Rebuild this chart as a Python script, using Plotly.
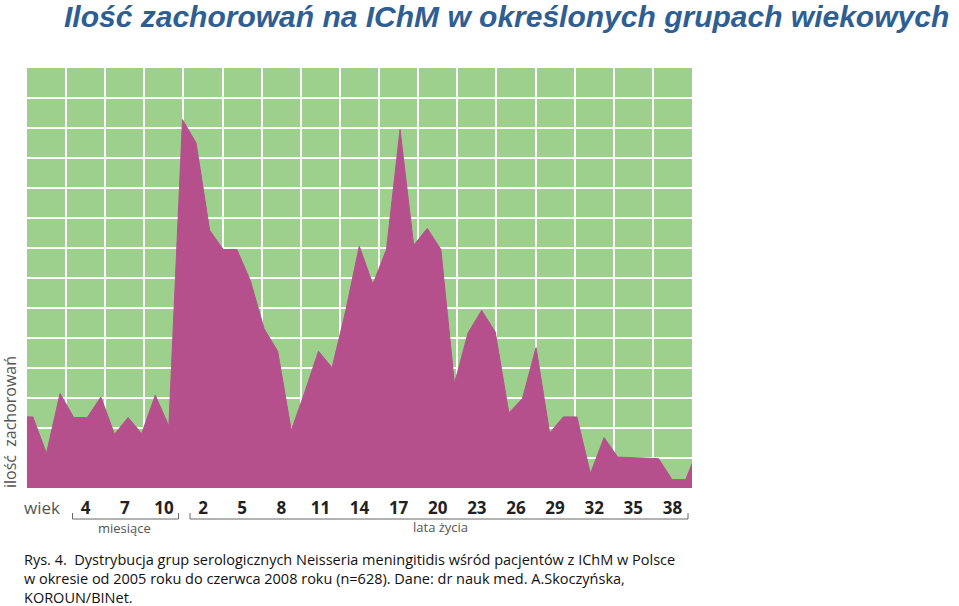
import numpy as np
import plotly.graph_objects as go

# case counts per age point (grid rows as units),
# first and last values sit just outside the visible range
values = [2.37, 2.37, 1.15, 3.15, 2.35, 2.35, 3.03, 1.79, 2.35, 1.81, 3.09, 2.06,
          12.28, 11.5, 8.59, 7.95, 7.95, 6.9, 5.31, 4.56, 1.92, 3.2,
          4.56, 4.01, 5.9, 8.06, 6.79, 7.95, 11.95, 8.09, 8.65, 7.95,
          3.48, 5.17, 5.92, 5.2, 2.5, 2.98, 4.68, 1.83, 2.37, 2.37,
          0.48, 1.68, 1.03, 1.01, 1.0, 0.98, 0.28, 0.28, 1.4]
age_labels = ['4', '7', '10', '2', '5', '8', '11', '14', '17', '20', '23',
              '26', '29', '32', '35', '38']

GREEN = '#9dcf8d'
MAGENTA = '#b5508d'
BLUE = '#2f5f92'

n_cells = 17
cell_w = 3 / 1.043
x_left = -0.45 / 1.043
x_right = x_left + n_cells * cell_w
tick_pos = [x_left + (m + 1.5) * cell_w for m in range(len(age_labels))]

W, H = 959, 606
L, R, T, B = 27, 267, 68, 118
PW, PH = W - L - R, H - T - B


def px(x):
    return (x - L) / PW


def py(y):
    return (H - B - y) / PH


fig = go.Figure()
fig.add_trace(go.Scatter(
    x=np.arange(len(values)) - 1,
    y=values,
    mode='lines',
    fill='tozeroy',
    fillcolor=MAGENTA,
    line=dict(color=MAGENTA, width=1),
    hoverinfo='skip',
))

fig.update_layout(
    width=W, height=H,
    margin=dict(l=L, r=R, t=T, b=B),
    paper_bgcolor='white',
    plot_bgcolor=GREEN,
    showlegend=False,
    xaxis=dict(
        range=[x_left, x_right],
        tickmode='array',
        tickvals=tick_pos,
        ticktext=age_labels,
        tickfont=dict(family='Open Sans', size=17, color='#222', weight='bold'),
        showgrid=False, zeroline=False,
        ticks='outside', ticklen=5, tickcolor='rgba(0,0,0,0)',
        minor=dict(tickmode='linear', tick0=x_left, dtick=cell_w,
                   showgrid=True, gridcolor='white', gridwidth=2),
    ),
    yaxis=dict(
        range=[0, 14],
        tickmode='array',
        tickvals=list(range(1, 14)),
        showticklabels=False,
        showgrid=True, gridcolor='white', gridwidth=2,
        zeroline=False,
    ),
)

# brackets under the age labels
for x0, x1 in [(72.5, 178.5), (190, 688)]:
    fig.add_shape(type='path', xref='paper', yref='paper',
                  path=f'M {px(x0)} {py(513)} L {px(x0)} {py(519)} '
                       f'L {px(x1)} {py(519)} L {px(x1)} {py(513)}',
                  line=dict(color='#666', width=1))


def label(text, x, y, size, color, **kw):
    opts = dict(xanchor='center', yanchor='middle')
    opts.update(kw)
    fig.add_annotation(text=text, xref='paper', yref='paper', x=px(x), y=py(y),
                       showarrow=False, font=dict(family='Open Sans', size=size, color=color),
                       **opts)


gray = '#555'
label('wiek', 42, 507, 17, gray)
label('miesiące', 124, 528, 13, gray)
label('lata życia', 440, 527, 13, gray)
label('ilość  zachorowań', 10, 422, 16, gray, textangle=-90)

fig.add_annotation(text='<b><i>Ilość zachorowań na IChM w określonych grupach wiekowych</i></b>',
                   xref='paper', yref='paper', x=px(62), y=py(17),
                   xanchor='left', yanchor='middle', showarrow=False,
                   font=dict(family='Liberation Sans', size=30, color=BLUE))

caption = ('Rys. 4.  Dystrybucja grup serologicznych Neisseria meningitidis wśród pacjentów z IChM w Polsce<br>'
           'w okresie od 2005 roku do czerwca 2008 roku (n=628). Dane: dr nauk med. A.Skoczyńska,<br>'
           'KOROUN/BINet.')
label(caption, 22, 578, 14.5, '#111', xanchor='left', align='left')

fig.write_html('out.html', config={'displayModeBar': False},
               post_script="document.body.style.margin='0';")
